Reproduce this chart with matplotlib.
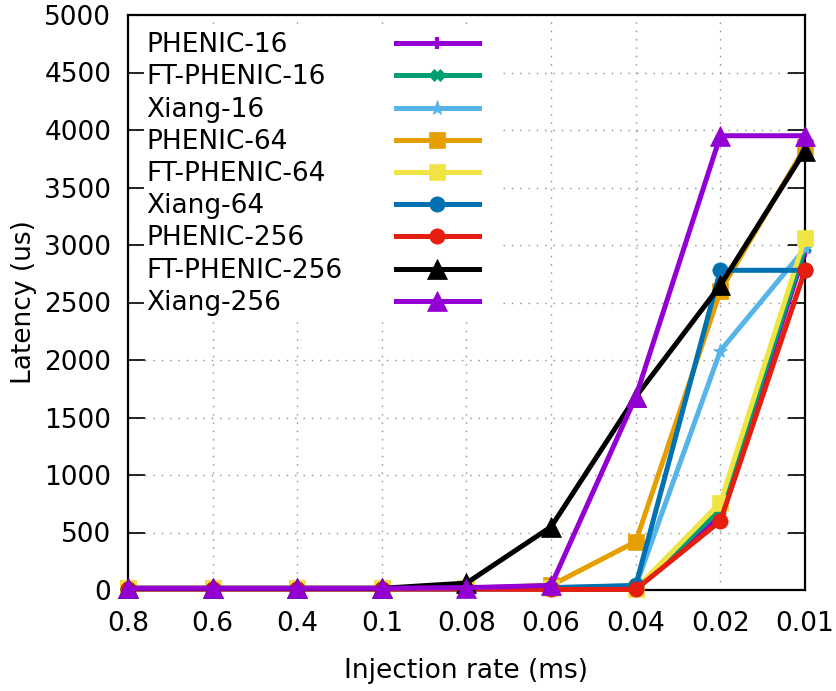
import matplotlib
matplotlib.use("Agg")
import matplotlib.pyplot as plt
from matplotlib.lines import Line2D
from matplotlib.patches import Rectangle

plt.rcParams["font.family"] = ["DejaVu Sans"]

# Injection-rate categories (x axis, in plotting order)
rates = ["0.8", "0.6", "0.4", "0.1", "0.08", "0.06", "0.04", "0.02", "0.01"]

# Latency (us) per network configuration
phenic_16      = [10, 10, 10, 10, 10, 10, 5, 650, 2950]
ft_phenic_16   = [10, 10, 10, 10, 10, 10, 5, 700, 2980]
xiang_16       = [12, 12, 12, 12, 12, 20, 35, 2080, 2970]
phenic_64      = [15, 15, 15, 15, 15, 40, 420, 2600, 3850]
ft_phenic_64   = [15, 15, 15, 15, 15, 15, 10, 760, 3060]
xiang_64       = [12, 12, 12, 12, 12, 20, 40, 2780, 2780]
phenic_256     = [8, 8, 8, 8, 8, 5, 5, 600, 2780]
ft_phenic_256  = [15, 15, 15, 15, 60, 550, 1680, 2650, 3820]
xiang_256      = [15, 15, 15, 15, 20, 40, 1680, 3950, 3950]

labels = ["PHENIC-16", "FT-PHENIC-16", "Xiang-16", "PHENIC-64", "FT-PHENIC-64",
          "Xiang-64", "PHENIC-256", "FT-PHENIC-256", "Xiang-256"]
series = [phenic_16, ft_phenic_16, xiang_16, phenic_64, ft_phenic_64,
          xiang_64, phenic_256, ft_phenic_256, xiang_256]

colors = ["#9400d3", "#009e73", "#56b4e9", "#e69f00", "#f0e442",
          "#0072b2", "#e51e10", "#000000", "#9400d3"]
markers = ["+", "X", "*", "s", "s", "o", "o", "^", "^"]
msizes = [9, 8, 11, 11, 11, 11, 11, 14, 14]
mews = [3, 0.5, 0.5, 0.5, 0.5, 0.5, 0.5, 0.5, 0.5]

FS = 19

fig = plt.figure(figsize=(8.37, 6.91), dpi=100)
ax = fig.add_axes([128 / 837, 1 - 590 / 691, (805 - 128) / 837, 575 / 691])

x = list(range(len(rates)))
for vals, c, m, ms, mew in zip(series, colors, markers, msizes, mews):
    ax.plot(x, vals, color=c, lw=3.6, marker=m, markersize=ms,
            markeredgewidth=mew, markeredgecolor=c, markerfacecolor=c,
            clip_on=False, zorder=3)

ax.set_xlim(0, len(rates) - 1)
ax.set_ylim(0, 5000)
ax.set_xticks(x)
ax.set_xticklabels(rates)
ax.set_yticks(range(0, 5001, 500))
ax.tick_params(axis="y", direction="in", length=12, width=1.2, right=True,
               labelsize=FS, pad=12)
ax.tick_params(axis="x", length=0, labelsize=FS, pad=15)
for s in ax.spines.values():
    s.set_linewidth(1.6)

ax.grid(True, color="0.55", linestyle=(0, (1, 5)), linewidth=1.0)
ax.set_axisbelow(True)

ax.set_xlabel("Injection rate (ms)", fontsize=FS, labelpad=15)
ax.set_ylabel("Latency (us)", fontsize=FS, labelpad=5)

# Key: left-justified names, samples aligned in one column, on white backing
ax.add_patch(Rectangle((0.024, 0.473), 0.521, 0.51, transform=ax.transAxes,
                       facecolor="white", edgecolor="none", zorder=4))
row0 = 0.951
step = 32.2 / 575
text_drop = 2.0 / 575
for i, (lab, c, m, ms, mew) in enumerate(zip(labels, colors, markers, msizes, mews)):
    yy = row0 - i * step
    ax.text(0.0276, yy - text_drop, lab, transform=ax.transAxes, fontsize=FS,
            ha="left", va="center", zorder=5)
    ax.add_line(Line2D([0.396, 0.519], [yy, yy], transform=ax.transAxes,
                       color=c, lw=3.6, zorder=5))
    ax.add_line(Line2D([0.456], [yy], transform=ax.transAxes, color=c,
                       marker=m, markersize=ms, markeredgewidth=mew,
                       markeredgecolor=c, markerfacecolor=c, zorder=5))

fig.savefig("out.png", dpi=100)
